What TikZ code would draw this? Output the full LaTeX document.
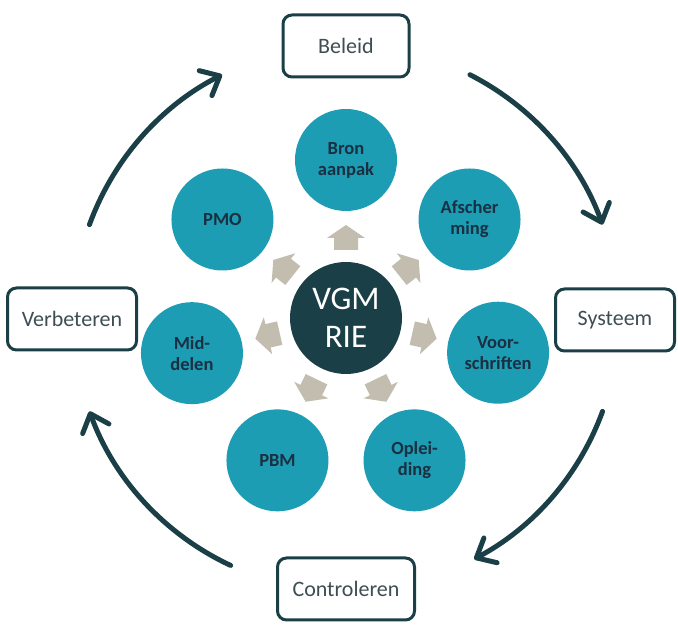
\documentclass[tikz,border=0pt]{standalone}
\usepackage{fontspec}
\setmainfont{Carlito}
\usetikzlibrary{arrows.meta,calc}
\definecolor{teal1}{HTML}{1C9DB3}
\definecolor{dark}{HTML}{1B3F47}
\definecolor{circtext}{HTML}{1A2F42}
\definecolor{arrgray}{HTML}{C2BDAE}
\definecolor{boxtext}{HTML}{3E4E53}
\begin{document}
\begin{tikzpicture}[x=1pt,y=1pt,
 box/.style={draw=dark, line width=3pt, rounded corners=9pt, fill=white, minimum height=62pt, text=boxtext, font=\fontsize{22}{26}\selectfont, inner sep=0pt},
 topic/.style={circle, fill=teal1, minimum size=102pt, inner sep=0pt, text=circtext, font=\fontsize{18.5}{21}\selectfont\bfseries, align=center},
 core/.style={circle, fill=dark, minimum size=112pt, inner sep=0pt, text=white, font=\fontsize{33}{38}\selectfont, align=center},
 loopar/.style={draw=dark, line width=5pt, line cap=round, -{Straight Barb[length=16pt,width=28pt,round]}},
 push/.style={fill=arrgray}]
\useasboundingbox (0,0) rectangle (678,628);
\coordinate (C) at (346,310);
% outer boxes
\node[box, minimum width=126pt] (beleid) at (346,582) {Beleid};
\node[box, minimum width=119pt] (systeem) at (615,308) {Systeem};
\node[box, minimum width=137pt] (contr) at (346,39) {Controleren};
\node[box, minimum width=129pt] (verb) at (72,309) {Verbeteren};
% core
\node[core] (core) at (C) {VGM\\RIE};
% topic circles
\node[topic] (bron) at ($(C)+(90:158)$) {Bron\\aanpak};
\node[topic] (afsch) at ($(C)+(38.57:158)$) {Afscher\\ming};
\node[topic] (voor) at ($(C)+(-12.86:156)$) {Voor-\\schriften};
\node[topic] (opl) at ($(C)+(-64.29:158)$) {Oplei-\\ding};
\node[topic] (pbm) at ($(C)+(-115.71:158)$) {PBM};
\node[topic] (mid) at ($(C)+(-167.14:158)$) {Mid-\\delen};
\node[topic] (pmo) at ($(C)+(141.43:158)$) {PMO};
% small push arrows
\foreach \a in {90,38.57,-12.86,-64.29,-115.71,-167.14,141.43}{
  \begin{scope}[shift={(C)}, rotate=\a-90]
    \fill[push] (-12,68) -- (12,68) -- (12,80) -- (19,80) -- (0,93) -- (-19,80) -- (-12,80) -- cycle;
  \end{scope}
}
% cycle arrows
\coordinate (s1) at ($(C)+(63:273)$);
\coordinate (s2) at ($(C)+(-20:273)$);
\coordinate (s3) at ($(C)+(-115:273)$);
\coordinate (s4) at ($(C)+(160:273)$);
\draw[loopar] (s1) arc[start angle=63, end angle=20, radius=273];
\draw[loopar] (s2) arc[start angle=-20, end angle=-62, radius=273];
\draw[loopar] (s3) arc[start angle=-115, end angle=-160, radius=273];
\draw[loopar] (s4) arc[start angle=160, end angle=117, radius=273];
\end{tikzpicture}
\end{document}
